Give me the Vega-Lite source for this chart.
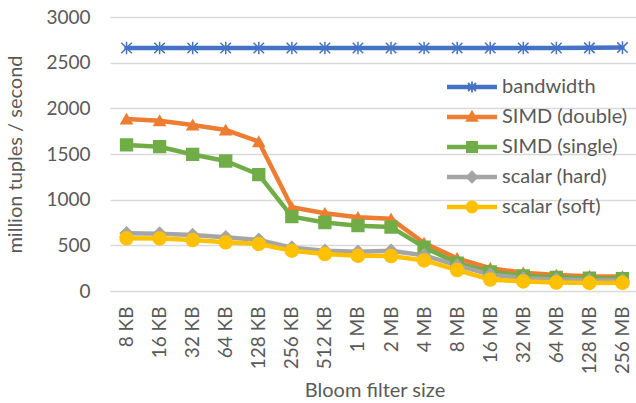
{
  "$schema": "https://vega.github.io/schema/vega-lite/v6.json",
  "width": 529,
  "height": 274,
  "autosize": "none",
  "padding": {"left": 110, "top": 17, "right": 0, "bottom": 112},
  "background": "white",
  "config": {
    "font": "Lato",
    "view": {"stroke": null},
    "axis": {
      "labelColor": "#595959",
      "titleColor": "#595959",
      "labelFontSize": 19,
      "titleFontSize": 20,
      "titleFontWeight": "normal",
      "labelFont": "Lato",
      "titleFont": "Lato",
      "gridColor": "#D9D9D9",
      "gridWidth": 1.3,
      "domain": false,
      "ticks": false
    }
  },
  "data": {
    "values": [
      {"size": "8 KB", "series": "bandwidth", "value": 2660},
      {"size": "16 KB", "series": "bandwidth", "value": 2660},
      {"size": "32 KB", "series": "bandwidth", "value": 2660},
      {"size": "64 KB", "series": "bandwidth", "value": 2660},
      {"size": "128 KB", "series": "bandwidth", "value": 2660},
      {"size": "256 KB", "series": "bandwidth", "value": 2660},
      {"size": "512 KB", "series": "bandwidth", "value": 2660},
      {"size": "1 MB", "series": "bandwidth", "value": 2660},
      {"size": "2 MB", "series": "bandwidth", "value": 2660},
      {"size": "4 MB", "series": "bandwidth", "value": 2660},
      {"size": "8 MB", "series": "bandwidth", "value": 2660},
      {"size": "16 MB", "series": "bandwidth", "value": 2660},
      {"size": "32 MB", "series": "bandwidth", "value": 2660},
      {"size": "64 MB", "series": "bandwidth", "value": 2660},
      {"size": "128 MB", "series": "bandwidth", "value": 2662},
      {"size": "256 MB", "series": "bandwidth", "value": 2665},

      {"size": "8 KB", "series": "SIMD (double)", "value": 1883},
      {"size": "16 KB", "series": "SIMD (double)", "value": 1865},
      {"size": "32 KB", "series": "SIMD (double)", "value": 1818},
      {"size": "64 KB", "series": "SIMD (double)", "value": 1763},
      {"size": "128 KB", "series": "SIMD (double)", "value": 1635},
      {"size": "256 KB", "series": "SIMD (double)", "value": 916},
      {"size": "512 KB", "series": "SIMD (double)", "value": 851},
      {"size": "1 MB", "series": "SIMD (double)", "value": 807},
      {"size": "2 MB", "series": "SIMD (double)", "value": 790},
      {"size": "4 MB", "series": "SIMD (double)", "value": 525},
      {"size": "8 MB", "series": "SIMD (double)", "value": 358},
      {"size": "16 MB", "series": "SIMD (double)", "value": 250},
      {"size": "32 MB", "series": "SIMD (double)", "value": 200},
      {"size": "64 MB", "series": "SIMD (double)", "value": 175},
      {"size": "128 MB", "series": "SIMD (double)", "value": 162},
      {"size": "256 MB", "series": "SIMD (double)", "value": 158},

      {"size": "8 KB", "series": "SIMD (single)", "value": 1599},
      {"size": "16 KB", "series": "SIMD (single)", "value": 1580},
      {"size": "32 KB", "series": "SIMD (single)", "value": 1495},
      {"size": "64 KB", "series": "SIMD (single)", "value": 1423},
      {"size": "128 KB", "series": "SIMD (single)", "value": 1275},
      {"size": "256 KB", "series": "SIMD (single)", "value": 814},
      {"size": "512 KB", "series": "SIMD (single)", "value": 750},
      {"size": "1 MB", "series": "SIMD (single)", "value": 715},
      {"size": "2 MB", "series": "SIMD (single)", "value": 700},
      {"size": "4 MB", "series": "SIMD (single)", "value": 480},
      {"size": "8 MB", "series": "SIMD (single)", "value": 305},
      {"size": "16 MB", "series": "SIMD (single)", "value": 210},
      {"size": "32 MB", "series": "SIMD (single)", "value": 165},
      {"size": "64 MB", "series": "SIMD (single)", "value": 150},
      {"size": "128 MB", "series": "SIMD (single)", "value": 140},
      {"size": "256 MB", "series": "SIMD (single)", "value": 135},

      {"size": "8 KB", "series": "scalar (hard)", "value": 632},
      {"size": "16 KB", "series": "scalar (hard)", "value": 628},
      {"size": "32 KB", "series": "scalar (hard)", "value": 613},
      {"size": "64 KB", "series": "scalar (hard)", "value": 588},
      {"size": "128 KB", "series": "scalar (hard)", "value": 560},
      {"size": "256 KB", "series": "scalar (hard)", "value": 475},
      {"size": "512 KB", "series": "scalar (hard)", "value": 440},
      {"size": "1 MB", "series": "scalar (hard)", "value": 430},
      {"size": "2 MB", "series": "scalar (hard)", "value": 440},
      {"size": "4 MB", "series": "scalar (hard)", "value": 390},
      {"size": "8 MB", "series": "scalar (hard)", "value": 280},
      {"size": "16 MB", "series": "scalar (hard)", "value": 180},
      {"size": "32 MB", "series": "scalar (hard)", "value": 140},
      {"size": "64 MB", "series": "scalar (hard)", "value": 125},
      {"size": "128 MB", "series": "scalar (hard)", "value": 118},
      {"size": "256 MB", "series": "scalar (hard)", "value": 115},

      {"size": "8 KB", "series": "scalar (soft)", "value": 577},
      {"size": "16 KB", "series": "scalar (soft)", "value": 575},
      {"size": "32 KB", "series": "scalar (soft)", "value": 558},
      {"size": "64 KB", "series": "scalar (soft)", "value": 533},
      {"size": "128 KB", "series": "scalar (soft)", "value": 515},
      {"size": "256 KB", "series": "scalar (soft)", "value": 441},
      {"size": "512 KB", "series": "scalar (soft)", "value": 405},
      {"size": "1 MB", "series": "scalar (soft)", "value": 385},
      {"size": "2 MB", "series": "scalar (soft)", "value": 383},
      {"size": "4 MB", "series": "scalar (soft)", "value": 335},
      {"size": "8 MB", "series": "scalar (soft)", "value": 230},
      {"size": "16 MB", "series": "scalar (soft)", "value": 125},
      {"size": "32 MB", "series": "scalar (soft)", "value": 105},
      {"size": "64 MB", "series": "scalar (soft)", "value": 93},
      {"size": "128 MB", "series": "scalar (soft)", "value": 88},
      {"size": "256 MB", "series": "scalar (soft)", "value": 90}
    ]
  },
  "encoding": {
    "x": {
      "field": "size",
      "type": "ordinal",
      "sort": ["8 KB", "16 KB", "32 KB", "64 KB", "128 KB", "256 KB", "512 KB", "1 MB", "2 MB", "4 MB", "8 MB", "16 MB", "32 MB", "64 MB", "128 MB", "256 MB"],
      "scale": {"type": "point", "padding": 0.5},
      "axis": {"title": "Bloom filter size", "labelAngle": -90, "labelPadding": 15, "titlePadding": 7, "grid": false}
    },
    "y": {
      "field": "value",
      "type": "quantitative",
      "scale": {"domain": [0, 3000]},
      "axis": {"title": "million tuples / second", "format": "d", "values": [0, 500, 1000, 1500, 2000, 2500, 3000], "labelPadding": 20, "titlePadding": 20}
    },
    "color": {
      "field": "series",
      "type": "nominal",
      "scale": {
        "domain": ["bandwidth", "SIMD (double)", "SIMD (single)", "scalar (hard)", "scalar (soft)"],
        "range": ["#4472C4", "#ED7D31", "#70AD47", "#A5A5A5", "#FFC000"]
      },
      "legend": null
    }
  },
  "layer": [
    {
      "mark": {"type": "line", "strokeWidth": 4.5, "strokeJoin": "round", "strokeCap": "round"}
    },
    {
      "mark": {"type": "point", "filled": true, "opacity": 1, "strokeWidth": 1.5},
      "encoding": {
        "shape": {
          "field": "series",
          "scale": {
            "domain": ["bandwidth", "SIMD (double)", "SIMD (single)", "scalar (hard)", "scalar (soft)"],
            "range": ["M-1,-1L1,1M-1,1L1,-1M0,-1.2L0,1.2", "triangle-up", "square", "diamond", "circle"]
          },
          "legend": null
        },
        "size": {
          "field": "series",
          "type": "nominal",
          "scale": {
            "domain": ["bandwidth", "SIMD (double)", "SIMD (single)", "scalar (hard)", "scalar (soft)"],
            "range": [110, 170, 120, 150, 130]
          },
          "legend": null
        },
        "stroke": {
          "field": "series",
          "scale": {
            "domain": ["bandwidth", "SIMD (double)", "SIMD (single)", "scalar (hard)", "scalar (soft)"],
            "range": ["#4472C4", "#ED7D31", "#70AD47", "#A5A5A5", "#FFC000"]
          },
          "legend": null
        }
      }
    },
    {
      "transform": [{"filter": "false"}],
      "mark": {"type": "point", "filled": true, "opacity": 1},
      "encoding": {
        "color": {
          "field": "series",
          "type": "nominal",
          "scale": {
            "domain": ["bandwidth", "SIMD (double)", "SIMD (single)", "scalar (hard)", "scalar (soft)"],
            "range": ["#4472C4", "#ED7D31", "#70AD47", "#A5A5A5", "#FFC000"]
          },
          "legend": {
            "title": null,
            "orient": "none",
            "legendX": 352,
            "legendY": 60,
            "padding": 0,
            "labelFontSize": 20,
            "labelFont": "Lato",
            "labelColor": "#595959",
            "labelOffset": 20,
            "rowPadding": 10,
            "symbolSize": 100,
            "symbolStrokeWidth": 0,
            "symbolOpacity": 1
          }
        },
        "shape": {
          "field": "series",
          "scale": {
            "domain": ["bandwidth", "SIMD (double)", "SIMD (single)", "scalar (hard)", "scalar (soft)"],
            "range": [
              "M-5,-0.45L5,-0.45L5,0.45L-5,0.45ZM-0.18,-1.1L0.18,-1.1L0.18,1.1L-0.18,1.1ZM-0.673,-0.927L0.927,0.673L0.673,0.927L-0.927,-0.673ZM-0.927,0.673L0.673,-0.927L0.927,-0.673L-0.673,0.927Z",
              "M-5,-0.45L5,-0.45L5,0.45L-5,0.45ZM0,-1.45L1.35,0.95L-1.35,0.95Z",
              "M-5,-0.45L5,-0.45L5,0.45L-5,0.45ZM-1.2,-1.2L1.2,-1.2L1.2,1.2L-1.2,1.2Z",
              "M-5,-0.45L5,-0.45L5,0.45L-5,0.45ZM0,-1.35L1.35,0L0,1.35L-1.35,0Z",
              "M-5,-0.45L5,-0.45L5,0.45L-5,0.45ZM1.3,0L1.201,0.498L0.919,0.919L0.498,1.201L0,1.3L-0.498,1.201L-0.919,0.919L-1.201,0.498L-1.3,0L-1.201,-0.498L-0.919,-0.919L-0.498,-1.201L0,-1.3L0.498,-1.201L0.919,-0.919L1.201,-0.498Z"
            ]
          },
          "legend": {
            "title": null,
            "orient": "none",
            "legendX": 352,
            "legendY": 60,
            "padding": 0,
            "labelFontSize": 20,
            "labelFont": "Lato",
            "labelColor": "#595959",
            "labelOffset": 20,
            "rowPadding": 10,
            "symbolSize": 100,
            "symbolStrokeWidth": 0,
            "symbolOpacity": 1
          }
        }
      }
    }
  ],
  "resolve": {"scale": {"shape": "independent", "color": "independent"}}
}
